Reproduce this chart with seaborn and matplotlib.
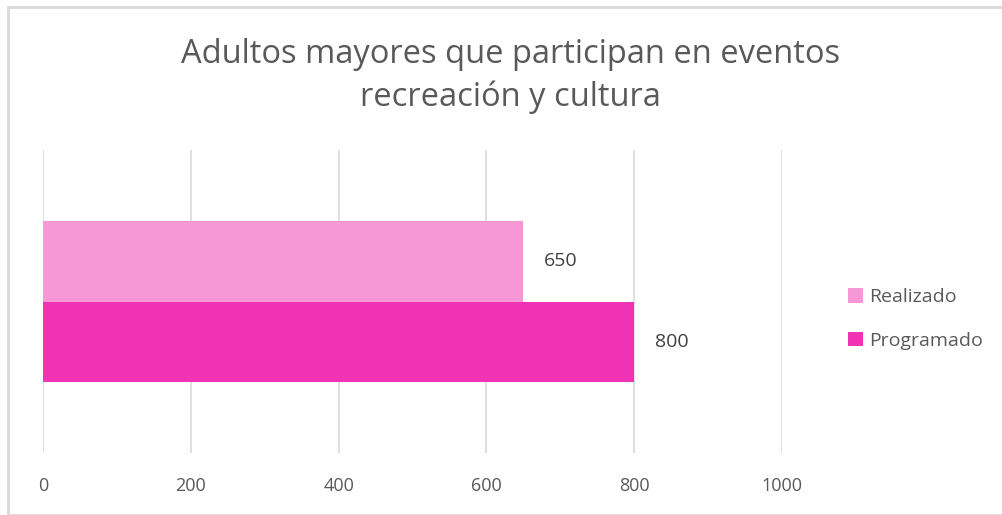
import pandas as pd
import matplotlib.pyplot as plt
import seaborn as sns
from matplotlib.patches import Rectangle, Patch

series = ["Realizado", "Programado"]
values = [650, 800]
category = [""] * len(series)
colors = ["#F797D6", "#F032B4"]
ticks = [0, 200, 400, 600, 800, 1000]

df = pd.DataFrame({"cat": category, "serie": series, "valor": values})

sns.set_theme(style="white")
plt.rcParams["font.family"] = ["Open Sans", "DejaVu Sans"]

fig = plt.figure(figsize=(10.03, 5.15), dpi=100)
ax = fig.add_axes([43 / 1003, 1 - 453 / 515, (782 - 43) / 1003, (453 - 150) / 515])

sns.barplot(data=df, x="valor", y="cat", hue="serie", hue_order=series,
            palette=colors, orient="h", width=0.53, ax=ax, legend=False,
            saturation=1, linewidth=0)

ax.set_xlim(0, 1000)
ax.set_xticks(ticks)
ax.set_xticklabels([str(t) for t in ticks], color="#595959", fontsize=13)
ax.set_yticks([])
ax.set_xlabel("")
ax.set_ylabel("")
ax.tick_params(axis="x", length=0, pad=17)
ax.grid(axis="x", color="#D9D9D9", linewidth=1.2)
ax.set_axisbelow(True)
for s in ax.spines.values():
    s.set_visible(False)

for cont in ax.containers:
    ax.bar_label(cont, fmt="%d", padding=15, color="#404040", fontsize=14)

handles = [Patch(facecolor=c, edgecolor="none") for c in colors]
fig.legend(handles, series, loc="center left", bbox_to_anchor=(831 / 1003, 1 - 319 / 515),
           frameon=False, fontsize=14, labelcolor="#595959", handlelength=0.75,
           handleheight=0.75, handletextpad=0.3, labelspacing=1.3)

fig.text(0.509, 1 - 76 / 515, "Adultos mayores que participan en eventos\nrecreación y cultura",
         ha="center", va="center", fontsize=23.5, color="#595959", linespacing=1.4)

# chart border
fig.patches.append(Rectangle((8 / 1003, 0), 1 - 8 / 1003, 1 - 7 / 515, transform=fig.transFigure,
                             fill=False, edgecolor="#D9D9D9", linewidth=2))

fig.savefig("out.png", dpi=100)
